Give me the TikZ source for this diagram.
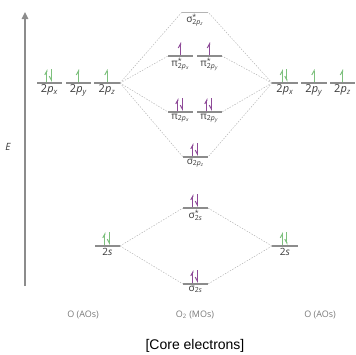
\documentclass[tikz,border=0pt]{standalone}
\usepackage{fontspec}
\setmainfont{Open Sans}
\newfontfamily\capfont{Liberation Sans}
\usepackage{tikz}
\usetikzlibrary{arrows.meta,calc}
\definecolor{aoGreen}{HTML}{7DC07D}
\definecolor{moPurple}{HTML}{8E4A98}
\definecolor{lvlGray}{HTML}{8C8C8C}
\definecolor{linkGray}{HTML}{B4B4B4}
\definecolor{txtDark}{HTML}{3A3A3A}
\definecolor{baseGray}{HTML}{7A7A7A}
% one energy level: name, left x, right x, y
\newcommand{\orb}[4]{%
  \coordinate (#1-l) at (#2,#4);
  \coordinate (#1-r) at (#3,#4);
  \coordinate (#1) at ($(#1-l)!0.5!(#1-r)$);
  \draw[lvl] (#1-l) -- (#1-r);}
% electrons on a level
\newcommand{\pairel}[2]{%
  \draw[eup,#2] ($(#1)+(-2.6,-1)$) -- ++(0,-13);
  \draw[edn,#2] ($(#1)+(1.9,-14)$) -- ++(0,13);}
\newcommand{\oneel}[2]{%
  \draw[eup,#2] ($(#1)+(0,-1)$) -- ++(0,-13);}
\newcommand{\pp}[1]{2\textit{p}\textsubscript{\textit{#1}}}

\begin{document}
\begin{tikzpicture}[x=1pt,y=-1pt,
  lvl/.style={draw=lvlGray,line width=1.1pt},
  link/.style={draw=linkGray,line width=0.5pt,dash pattern=on 1.4pt off 1.4pt},
  eup/.style={line width=1pt,-{Straight Barb[left,length=4pt,width=4.4pt]}},
  edn/.style={line width=1pt,-{Straight Barb[right,length=4pt,width=4.4pt]}},
  lbl/.style={font=\fontsize{10}{12}\selectfont,text=txtDark,inner sep=0.5pt,below=1.2pt},
  plbl/.style={lbl,font=\fontsize{11}{13}\selectfont},
  base/.style={font=\fontsize{9}{11}\selectfont,text=baseGray},
  axis/.style={draw=lvlGray,line width=1.3pt,-{Triangle[length=7pt,width=6.5pt]}}
]
\useasboundingbox (0,0) rectangle (356,354);
% energy axis
\coordinate (ebot) at (25,286);
\coordinate (etop) at (25,12);
\draw[axis] (ebot) -- (etop);
\node[font=\fontsize{10}{12}\selectfont\itshape,text=txtDark] (elab) at (8,147) {E};

% left atom
\orb{lpx}{37}{62}{83}
\orb{lpy}{66}{91}{83}
\orb{lpz}{94}{120}{83}
\orb{ls}{95}{120}{246}
% right atom
\orb{rpx}{272}{298}{83}
\orb{rpy}{301}{327}{83}
\orb{rpz}{330}{355}{83}
\orb{rs}{272}{298}{246}
% molecule
\coordinate (ssp-l) at (182,12);
\coordinate (ssp-r) at (208,12);
\coordinate (ssp) at (195,12);
\draw[draw=linkGray,line width=0.7pt] (ssp-l) -- (ssp-r);
\orb{pisx}{168}{193}{56}
\orb{pisy}{197}{222}{56}
\orb{pix}{168}{193}{112}
\orb{piy}{197}{222}{112}
\orb{sp}{183}{208}{157}
\orb{sss}{183}{208}{208}
\orb{ss}{183}{208}{284}

% correlation lines
\draw[link] (lpz-r) -- (ssp-l);
\draw[link] (lpz-r) -- (pisx-l);
\draw[link] (lpz-r) -- (pix-l);
\draw[link] (lpz-r) -- (sp-l);
\draw[link] (rpx-l) -- (ssp-r);
\draw[link] (rpx-l) -- (pisy-r);
\draw[link] (rpx-l) -- (piy-r);
\draw[link] (rpx-l) -- (sp-r);
\draw[link] (ls-r) -- (sss-l);
\draw[link] (ls-r) -- (ss-l);
\draw[link] (rs-l) -- (sss-r);
\draw[link] (rs-l) -- (ss-r);

% electrons
\pairel{lpx}{aoGreen} \oneel{lpy}{aoGreen} \oneel{lpz}{aoGreen}
\pairel{rpx}{aoGreen} \oneel{rpy}{aoGreen} \oneel{rpz}{aoGreen}
\pairel{ls}{aoGreen} \pairel{rs}{aoGreen}
\oneel{pisx}{moPurple} \oneel{pisy}{moPurple}
\pairel{pix}{moPurple} \pairel{piy}{moPurple}
\pairel{sp}{moPurple} \pairel{sss}{moPurple} \pairel{ss}{moPurple}

% level labels
\node[plbl] at (lpx) {\pp{x}};
\node[plbl] at (lpy) {\pp{y}};
\node[plbl] at (lpz) {\pp{z}};
\node[plbl] at (rpx) {\pp{x}};
\node[plbl] at (rpy) {\pp{y}};
\node[plbl] at (rpz) {\pp{z}};
\node[lbl] at (ls) {2\textit{s}};
\node[lbl] at (rs) {2\textit{s}};
\node[lbl] at (ssp) {σ\rlap{\textsuperscript{*}}\textsubscript{\pp{z}}};
\node[lbl] at (pisx) {π\rlap{\textsuperscript{*}}\textsubscript{\pp{x}}};
\node[lbl] at (pisy) {π\rlap{\textsuperscript{*}}\textsubscript{\pp{y}}};
\node[lbl] at (pix) {π\textsubscript{\pp{x}}};
\node[lbl] at (piy) {π\textsubscript{\pp{y}}};
\node[lbl] at (sp) {σ\textsubscript{\pp{z}}};
\node[lbl] at (sss) {σ\rlap{\textsuperscript{*}}\textsubscript{2\textit{s}}};
\node[lbl] at (ss) {σ\textsubscript{2\textit{s}}};

% captions
\node[base] (aol) at (83,315) {O (AOs)};
\node[base] (mom) at (195,315) {O\textsubscript{2} (MOs)};
\node[base] (aor) at (320,315) {O (AOs)};
\node[font=\capfont\fontsize{14}{16}\selectfont] (core) at (195,346) {[Core electrons]};
\end{tikzpicture}
\end{document}
